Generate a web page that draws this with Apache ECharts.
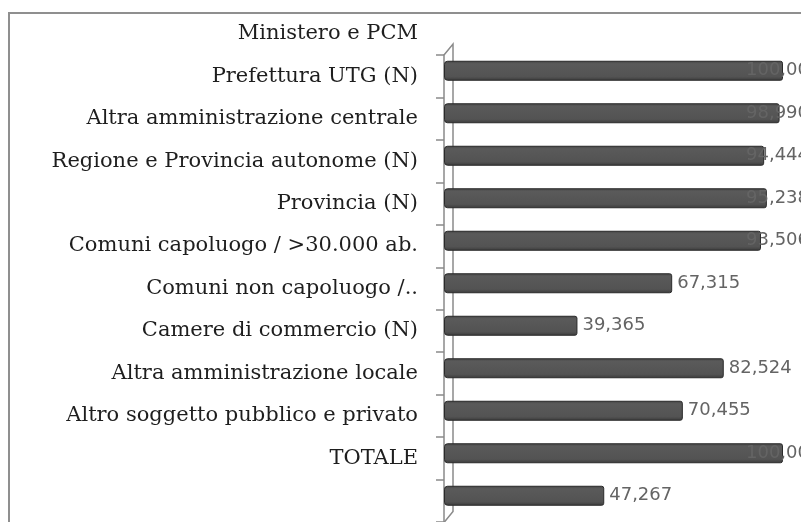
<!DOCTYPE html>
<html>
<head>
<meta charset="utf-8">
<script src="https://cdn.jsdelivr.net/npm/echarts@6/dist/echarts.min.js"></script>
<style>
  html, body { margin: 0; padding: 0; background: #fff; }
  #chart { width: 801px; height: 522px; }
</style>
</head>
<body>
<div id="chart"></div>
<script>
// categories as printed on the left, top to bottom
const categories = [
  "Ministero e PCM",
  "Prefettura UTG (N)",
  "Altra amministrazione centrale",
  "Regione e Provincia autonome (N)",
  "Provincia (N)",
  "Comuni capoluogo / >30.000 ab.",
  "Comuni non capoluogo /..",
  "Camere di commercio (N)",
  "Altra amministrazione locale",
  "Altro soggetto pubblico e privato",
  "TOTALE",
];
// bar values, top to bottom
const values = [100, 98.99, 94.444, 95.238, 93.506, 67.315, 39.365, 82.524, 70.455, 100, 47.267];

const GRID_LEFT = 444;
const GRID_RIGHT = 18;
const PLOT_W = 801 - GRID_LEFT - GRID_RIGHT;
const BAND = 42.5;
const TOP = 55;
const LABEL_LIMIT = 746; // value labels never start further right than this

const fmt = (v) => v.toFixed(3).replace(".", ",");

const barData = values.map((v) => {
  const start = GRID_LEFT + (v / 100) * PLOT_W + 5;
  const shift = start > LABEL_LIMIT ? LABEL_LIMIT - start : 0;
  return { value: v, label: { offset: [shift, 0] } };
});

const chart = echarts.init(document.getElementById("chart"));

const hiddenX = (i) => ({
  type: "value", gridIndex: i, min: 0, max: 100, show: false,
});

chart.setOption({
  animation: false,
  grid: [
    // labels: one band more at the top, as in the scan
    { left: GRID_LEFT, right: GRID_RIGHT, top: TOP - BAND, height: BAND * 12 },
    // axis line + ticks
    { left: GRID_LEFT, right: GRID_RIGHT, top: TOP, height: BAND * 11 },
    // bars, drawn a little higher (3D depth)
    { left: GRID_LEFT, right: GRID_RIGHT, top: TOP - 5.5, height: BAND * 11 },
  ],
  xAxis: [hiddenX(0), hiddenX(1), hiddenX(2)],
  yAxis: [
    {
      type: "category", gridIndex: 0, inverse: true,
      data: categories.concat([""]),
      axisLine: { show: false }, axisTick: { show: false },
      axisLabel: {
        interval: 0, margin: 26, color: "#1e1e1e",
        fontFamily: "DejaVu Serif", fontSize: 21,
      },
    },
    {
      type: "category", gridIndex: 1, inverse: true, data: categories,
      axisLabel: { show: false },
      axisLine: { show: true, lineStyle: { color: "#8a8a8a", width: 1.5 } },
      axisTick: { show: true, interval: 0, length: 8, lineStyle: { color: "#8a8a8a", width: 1.5 } },
    },
    {
      type: "category", gridIndex: 2, inverse: true, data: categories, show: false,
    },
  ],
  graphic: [
    {
      type: "rect", z: -1,
      shape: { x: 9, y: 13, width: 830, height: 560 },
      style: { fill: "none", stroke: "#8f8f8f", lineWidth: 2 },
    },
    {
      type: "polyline", z: -1,
      shape: { points: [[GRID_LEFT, TOP], [GRID_LEFT + 9, TOP - 11], [GRID_LEFT + 9, TOP + BAND * 11 - 11], [GRID_LEFT, TOP + BAND * 11]] },
      style: { fill: "none", stroke: "#8a8a8a", lineWidth: 1.5 },
    },
  ],
  series: [
    {
      type: "bar", xAxisIndex: 2, yAxisIndex: 2,
      data: barData, barWidth: 20,
      itemStyle: {
        color: new echarts.graphic.LinearGradient(0, 0, 0, 1, [
          { offset: 0, color: "#444" },
          { offset: 0.15, color: "#5a5a5a" },
          { offset: 0.8, color: "#535353" },
          { offset: 1, color: "#3a3a3a" },
        ]),
        borderColor: "#2a2a2a", borderWidth: 1,
        borderRadius: [3, 2, 2, 3],
      },
      label: {
        show: true, position: "right", distance: 5,
        color: "#646464", fontFamily: "DejaVu Sans", fontSize: 18,
        formatter: (p) => fmt(p.value),
      },
    },
  ],
});
</script>
</body>
</html>
